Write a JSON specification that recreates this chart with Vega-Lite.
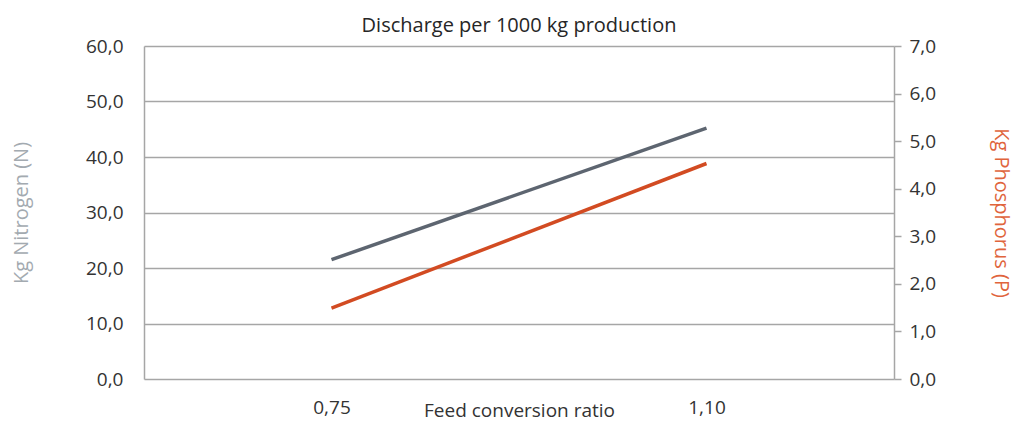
{
  "$schema": "https://vega.github.io/schema/vega-lite/v6.json",
  "width": 750,
  "height": 333,
  "autosize": {"type": "none"},
  "padding": {"left": 144, "top": 46, "right": 123, "bottom": 42},
  "background": "white",
  "title": {
    "text": "Discharge per 1000 kg production",
    "fontSize": 20,
    "font": "Open Sans",
    "fontWeight": "normal",
    "color": "#262626",
    "anchor": "middle",
    "offset": 1
  },
  "data": {
    "values": [
      {"fcr": "0,75", "N": 21.5, "P": 1.49},
      {"fcr": "1,10", "N": 45.2, "P": 4.53}
    ]
  },
  "encoding": {
    "x": {
      "field": "fcr",
      "type": "ordinal",
      "scale": {"type": "point", "padding": 0.5},
      "axis": {
        "title": "Feed conversion ratio",
        "labelAngle": 0,
        "domain": false,
        "ticks": false,
        "tickSize": 0,
        "labelPadding": 19,
        "labelFont": "Open Sans",
        "labelFontSize": 19,
        "labelColor": "#333333",
        "titleFont": "Open Sans",
        "titleFontSize": 19,
        "titleFontWeight": "normal",
        "titleColor": "#333333",
        "titlePadding": -16
      }
    }
  },
  "layer": [
    {
      "mark": {"type": "line", "color": "#5d6570", "strokeWidth": 3.5},
      "encoding": {
        "y": {
          "field": "N",
          "type": "quantitative",
          "scale": {"domain": [0, 60]},
          "axis": {
            "orient": "left",
            "values": [0, 10, 20, 30, 40, 50, 60],
            "labelExpr": "replace(format(datum.value, '.1f'), '.', ',')",
            "grid": true,
            "gridColor": "#a6a6a6",
            "gridWidth": 1.5,
            "domain": true,
            "domainColor": "#a6a6a6",
            "domainWidth": 1.5,
            "ticks": false,
            "tickSize": 0,
            "labelPadding": 21,
            "labelFont": "Open Sans",
            "labelFontSize": 19,
            "labelColor": "#333333",
            "title": "Kg Nitrogen (N)",
            "titleFont": "Open Sans",
            "titleFontSize": 20,
            "titleFontWeight": "normal",
            "titleColor": "#a3aab0",
            "titlePadding": 54
          }
        }
      }
    },
    {
      "mark": {"type": "line", "color": "#d24b22", "strokeWidth": 3.5},
      "encoding": {
        "y": {
          "field": "P",
          "type": "quantitative",
          "scale": {"domain": [0, 7]},
          "axis": {
            "orient": "right",
            "values": [0, 1, 2, 3, 4, 5, 6, 7],
            "labelExpr": "replace(format(datum.value, '.1f'), '.', ',')",
            "grid": false,
            "domain": true,
            "domainColor": "#a6a6a6",
            "domainWidth": 1.5,
            "ticks": true,
            "tickSize": 7,
            "tickColor": "#a6a6a6",
            "tickWidth": 1.5,
            "labelPadding": 8,
            "labelFont": "Open Sans",
            "labelFontSize": 19,
            "labelColor": "#333333",
            "title": "Kg Phosphorus (P)",
            "titleFont": "Open Sans",
            "titleFontSize": 20,
            "titleFontWeight": "normal",
            "titleColor": "#e0643c",
            "titlePadding": 55
          }
        }
      }
    }
  ],
  "resolve": {"scale": {"y": "independent"}},
  "config": {"view": {"stroke": null}}
}
